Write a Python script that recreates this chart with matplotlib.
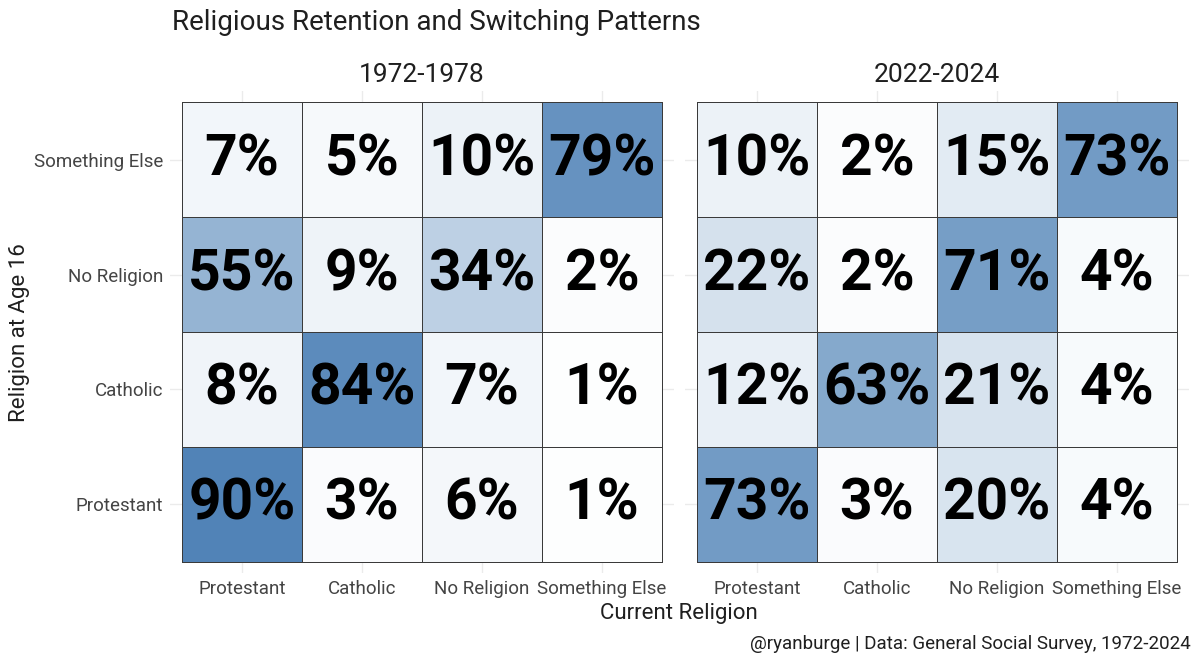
import matplotlib
matplotlib.use('Agg')
import matplotlib.pyplot as plt
from matplotlib.colors import LinearSegmentedColormap
import numpy as np

# ── Data ────────────────────────────────────────────────────
religions = ['Protestant', 'Catholic', 'No Religion', 'Something Else']
periods = ['1972-1978', '2022-2024']

# rows = religion at age 16 (bottom to top), cols = current religion
early = [[90, 3, 6, 1],
         [8, 84, 7, 1],
         [55, 9, 34, 2],
         [7, 5, 10, 79]]
late = [[73, 3, 20, 4],
        [12, 63, 21, 4],
        [22, 2, 71, 4],
        [10, 2, 15, 73]]

TEXT_FONT = ['Roboto', 'DejaVu Sans']
NUM_FONT = ['Roboto', 'DejaVu Sans']
GRID = '#ebebeb'
INK = '#1f1f1f'
TICK = '#444444'
cmap = LinearSegmentedColormap.from_list('blues', ['#ffffff', '#3e76af'])

plt.rcParams['font.family'] = TEXT_FONT
plt.rcParams['font.weight'] = 'light'

fig = plt.figure(figsize=(12, 6.67), dpi=100)
ax_l = fig.add_axes([0.1417, 0.1402, 0.42, 0.7241])
ax_r = fig.add_axes([0.5708, 0.1402, 0.42, 0.7241])

edges = np.arange(0.5, 5.0, 1.0)
for ax, vals, period in [(ax_l, early, periods[0]), (ax_r, late, periods[1])]:
    arr = np.array(vals)
    ax.pcolormesh(edges, edges, arr, cmap=cmap, vmin=0, vmax=100,
                  edgecolors='#3a3a3a', linewidth=0.6, zorder=2)
    for i in range(4):
        for j in range(4):
            ax.text(j + 1, i + 1, f'{arr[i, j]}%', ha='center', va='center',
                    fontsize=41, fontweight='bold', family=NUM_FONT,
                    color='black', zorder=3)
    ax.set_xlim(0.4, 4.6)
    ax.set_ylim(0.4, 4.6)
    ax.set_xticks(range(1, 5))
    ax.set_yticks(range(1, 5))
    ax.set_xticklabels(religions, fontsize=13.5, color=TICK, fontweight='normal')
    ax.grid(True, color=GRID, linewidth=1, zorder=0)
    ax.set_axisbelow(True)
    ax.tick_params(length=0, pad=5)
    for s in ax.spines.values():
        s.set_visible(False)
    ax.set_title(period, fontsize=19, color=INK, pad=6, fontweight='normal')

ax_l.set_yticklabels(religions, fontsize=13.5, color=TICK, fontweight='normal')
ax_r.set_yticklabels([])

fig.text(0.016, 0.502, 'Religion at Age 16', fontsize=16, color=INK,
         rotation=90, ha='center', va='center', fontweight='normal')
fig.text(0.1433, 0.966, 'Religious Retention and Switching Patterns',
         fontsize=20, color=INK, ha='left', va='center', fontweight='normal')
fig.text(0.566, 0.080, 'Current Religion', fontsize=16, color=INK,
         ha='center', va='center', fontweight='normal')
fig.text(0.992, 0.035, '@ryanburge | Data: General Social Survey, 1972-2024',
         fontsize=13.5, color=INK, ha='right', va='center', fontweight='normal')

fig.savefig('out.png', dpi=100)
